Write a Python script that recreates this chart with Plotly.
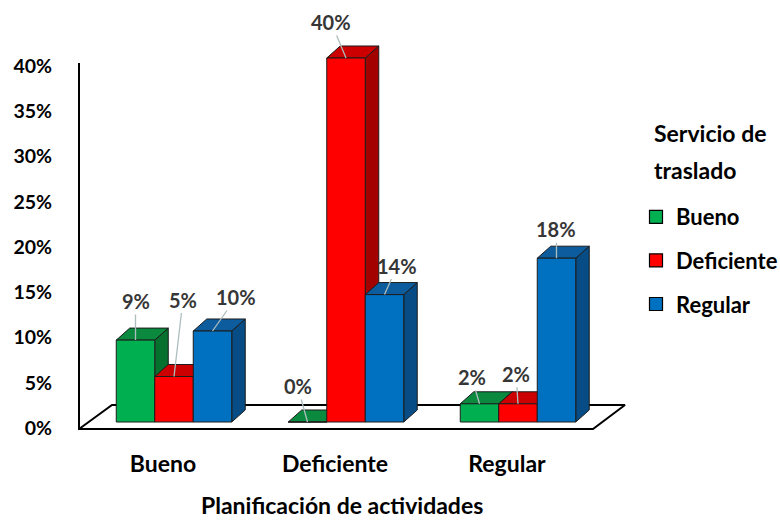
import plotly.graph_objects as go

# Planificación de actividades (groups) vs Servicio de traslado (series)
categories = ["Bueno", "Deficiente", "Regular"]
series_names = ["Bueno", "Deficiente", "Regular"]
bueno_values = [9, 0, 2]
deficiente_values = [5, 40, 2]
regular_values = [10, 14, 18]
y_ticks = [0, 5, 10, 15, 20, 25, 30, 35, 40]

series_values = [bueno_values, deficiente_values, regular_values]
front_colors = ["#00B050", "#FF0000", "#0070C0"]
top_colors = ["#0B8A3F", "#CC0000", "#0D5D9E"]
side_colors = ["#06702F", "#A30000", "#074C84"]

# label offsets (pixels) relative to the top-front edge of each bar
label_offsets = {
    (0, 0): (0, -39), (0, 1): (9, -77), (0, 2): (24, -34),
    (1, 0): (-10, -36), (1, 1): (-15, -36), (1, 2): (13, -29),
    (2, 0): (-8, -27), (2, 1): (-2, -30), (2, 2): (0, -29),
}

# geometry of the pseudo-3D boxes (x in group units, depth in axis units)
W, H = 780, 525
BAR_W = 0.2238
DX = 0.0785
DY = 1.32
FONT = "Lato"

fig = go.Figure()

# floor of the chart
fx_front = [-0.552, 2.436]
fx_back = [-0.3605, 2.622]
fy_front, fy_back = -0.77, 1.87
fig.add_trace(go.Scatter(
    x=[fx_front[0], fx_front[1], fx_back[1], fx_back[0], fx_front[0]],
    y=[fy_front, fy_front, fy_back, fy_back, fy_front],
    mode="lines", fill="toself", fillcolor="white",
    line=dict(color="black", width=2), hoverinfo="skip", showlegend=False))

def face(xs, ys, color):
    fig.add_trace(go.Scatter(
        x=xs + [xs[0]], y=ys + [ys[0]], mode="lines", fill="toself",
        fillcolor=color, line=dict(color="#1c1c1c", width=1),
        hoverinfo="skip", showlegend=False))

annotations = []
for gi, cat in enumerate(categories):
    for si in range(len(series_names)):
        v = series_values[si][gi]
        x0 = gi + (si - 1.5) * BAR_W
        x1 = x0 + BAR_W
        # right side
        face([x1, x1 + DX, x1 + DX, x1], [0, DY, v + DY, v], side_colors[si])
        # top
        face([x0, x1, x1 + DX, x0 + DX], [v, v, v + DY, v + DY], top_colors[si])
        # front
        face([x0, x1, x1, x0], [0, 0, v, v], front_colors[si])
        ax, ay = label_offsets[(gi, si)]
        annotations.append(dict(
            x=x0 + BAR_W / 2, y=v, xref="x", yref="y",
            text=f"{v}%", showarrow=True, arrowhead=0, arrowwidth=1.3,
            arrowcolor="#AEBDBD", ax=ax, ay=ay, standoff=0,
            font=dict(family=FONT, size=20, color="#363636", weight="bold")))

# legend entries
for si, name in enumerate(series_names):
    fig.add_trace(go.Scatter(
        x=[None], y=[None], mode="markers", name=name,
        legendgroup=name,
        marker=dict(symbol="square", size=13, color=front_colors[si],
                    line=dict(color="black", width=1.2))))

# value axis with percentage ticks
fig.add_trace(go.Scatter(x=[None, None], y=[y_ticks[0], y_ticks[-1]],
                         yaxis="y2", mode="markers", showlegend=False,
                         hoverinfo="skip"))

title_font = dict(family=FONT, size=23, color="black", weight="bold")
annotations += [
    dict(text="Servicio de", x=652 / W, y=1 - 133 / H, xref="paper", yref="paper",
         xanchor="left", yanchor="middle", showarrow=False, font=title_font),
    dict(text="traslado", x=652 / W, y=1 - 170 / H, xref="paper", yref="paper",
         xanchor="left", yanchor="middle", showarrow=False, font=title_font),
    dict(text="Planificación de actividades", x=342 / W, y=1 - 505 / H,
         xref="paper", yref="paper", xanchor="center", yanchor="middle",
         showarrow=False, font=title_font),
]

x_per_px = 1 / 172
fig.update_layout(
    width=W, height=H, margin=dict(l=0, r=0, t=0, b=0, autoexpand=False),
    paper_bgcolor="white", plot_bgcolor="rgba(0,0,0,0)",
    xaxis=dict(range=[-174 * x_per_px, (W - 174) * x_per_px], domain=[0, 1],
               anchor="free", position=1 - 448 / H, automargin=False,
               tickvals=[i - 0.064 for i in range(len(categories))],
               ticktext=categories, showgrid=False, zeroline=False,
               showline=False, ticks="",
               tickfont=dict(family=FONT, size=23, color="black", weight="bold")),
    yaxis=dict(range=[-(H - 422) / 9.1, 422 / 9.1], domain=[0, 1],
               visible=False, fixedrange=True, automargin=False),
    yaxis2=dict(domain=[1 - 430 / H, 1 - 63 / H], automargin=False,
                range=[-2 / 9.05, 365 / 9.05], anchor="free", position=79 / W,
                tickvals=y_ticks, ticktext=[f"{t}%" for t in y_ticks],
                showline=True, linecolor="black", linewidth=2, showgrid=False,
                zeroline=False, ticks="", ticklabelstandoff=22,
                tickfont=dict(family=FONT, size=19.5, color="black", weight="bold")),
    legend=dict(x=636 / W, y=1 - 196 / H, xanchor="left", yanchor="top",
                tracegroupgap=12, bgcolor="rgba(0,0,0,0)",
                font=dict(family=FONT, size=22, color="black", weight="bold")),
    annotations=annotations,
    showlegend=True,
)

fig.write_html("out.html")
